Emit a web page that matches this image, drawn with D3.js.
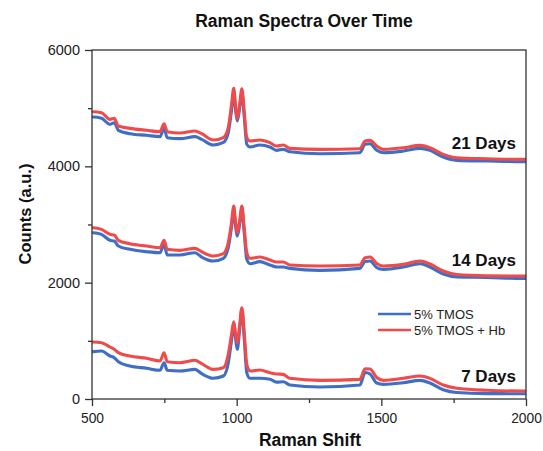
<!DOCTYPE html>
<html><head><meta charset="utf-8">
<script src="https://cdn.jsdelivr.net/npm/d3@7"></script>
<style>body{margin:0;background:#fff}svg{display:block}text{font-family:Arial,"Liberation Sans",sans-serif}</style>
</head><body><svg id="c" width="543" height="451"></svg>
<script>
const wn = [500,505,533,562,577,591,631,689,735,749,760,804,856,879,919,954,971,982,990,996,1002,1010,1018,1026,1035,1046,1080,1115,1138,1161,1184,1288,1426,1444,1461,1484,1507,1576,1634,1668,1714,1761,1864,1991,2000];
const d21_tmos = [4840,4848,4825,4722,4750,4619,4561,4533,4510,4653,4493,4476,4510,4464,4366,4410,4580,4950,5260,4980,4779,4990,5270,4860,4379,4332,4366,4332,4275,4292,4251,4217,4234,4379,4389,4275,4234,4263,4309,4275,4160,4103,4091,4080,4080];
const d21_hb   = [4930,4939,4922,4808,4825,4693,4653,4619,4596,4733,4596,4573,4607,4561,4452,4493,4665,5050,5340,5050,4825,5050,5334,4950,4493,4435,4452,4407,4349,4366,4309,4292,4303,4435,4446,4349,4292,4320,4360,4320,4206,4148,4131,4120,4120];
const d14_tmos = [2850,2859,2831,2728,2716,2630,2573,2532,2515,2659,2476,2476,2515,2441,2372,2419,2600,2950,3250,2980,2800,2990,3260,2870,2401,2326,2361,2304,2269,2269,2246,2212,2246,2365,2372,2260,2229,2269,2326,2270,2150,2100,2090,2074,2074];
const d14_hb   = [2940,2945,2917,2831,2819,2728,2670,2630,2601,2728,2573,2556,2590,2532,2458,2498,2687,3020,3318,3050,2859,3050,3318,2950,2515,2419,2441,2390,2355,2355,2304,2286,2304,2430,2441,2330,2286,2315,2372,2320,2200,2140,2118,2114,2114];
const d7_tmos  = [810,814,825,739,710,641,567,528,493,624,493,481,510,435,356,395,620,1000,1290,1050,854,1180,1540,1050,452,356,356,338,290,297,241,206,241,455,430,275,252,280,321,275,160,112,93,91,91];
const d7_hb    = [975,980,968,894,854,796,739,700,653,796,641,624,665,607,510,538,768,1100,1329,1120,968,1250,1570,1150,595,481,499,452,430,424,356,321,338,520,515,370,321,356,395,355,240,185,150,137,137];
const xTicks = [500,1000,1500,2000];
const xMinor = [750,1250,1750];
const yTicks = [0,2000,4000,6000];
const yMinor = [1000,3000,5000];
const seriesNames = ["5% TMOS","5% TMOS + Hb"];
const dayLabels = [{t:"21 Days", y:4290},{t:"14 Days", y:2290},{t:"7 Days", y:300}];

const colors = ["#3f6ec6","#ef4b4b"];
const svg = d3.select("#c");
const m = {l:92, r:17, t:50, b:52};
const W = 543, H = 451;
const x = d3.scaleLinear().domain([500,2000]).range([m.l, W-m.r]);
const y = d3.scaleLinear().domain([0,6000]).range([H-m.b, m.t]);
const axisColor = "#333";

const line = d3.line().x((d,i)=>x(wn[i])).y(d=>y(d)).curve(d3.curveMonotoneX);
const groups = [[d21_tmos,d21_hb],[d14_tmos,d14_hb],[d7_tmos,d7_hb]];
groups.forEach(g=>{
  g.forEach((vals,k)=>{
    svg.append("path").datum(vals).attr("d",line).attr("fill","none")
      .attr("stroke",colors[k]).attr("stroke-width",3.1).attr("stroke-linejoin","round");
  });
});

// frame
svg.append("rect").attr("x",x(500)).attr("y",y(6000)).attr("width",x(2000)-x(500)).attr("height",y(0)-y(6000))
  .attr("fill","none").attr("stroke",axisColor).attr("stroke-width",1.3);

// axes
const xAxis = svg.append("g").attr("transform",`translate(0,${y(0)})`)
  .call(d3.axisBottom(x).tickValues(xTicks).tickFormat(d3.format("d")).tickSize(7).tickPadding(7));
const xAxisMinor = svg.append("g").attr("transform",`translate(0,${y(0)})`)
  .call(d3.axisBottom(x).tickValues(xMinor).tickFormat("").tickSize(4));
const yAxis = svg.append("g").attr("transform",`translate(${x(500)},0)`)
  .call(d3.axisLeft(y).tickValues(yTicks).tickFormat(d3.format("d")).tickSize(7).tickPadding(5));
const yAxisMinor = svg.append("g").attr("transform",`translate(${x(500)},0)`)
  .call(d3.axisLeft(y).tickValues(yMinor).tickFormat("").tickSize(4));
[xAxis,xAxisMinor,yAxis,yAxisMinor].forEach(a=>{
  a.select(".domain").remove();
  a.selectAll("line").attr("stroke",axisColor).attr("stroke-width",1.3);
  a.selectAll("text").attr("fill","#222").style("font-family","Arial, 'Liberation Sans', sans-serif");
});
xAxis.selectAll("text").attr("font-size",13.8);
yAxis.selectAll("text").attr("font-size",14.5);

// title & labels
svg.append("text").attr("x",304).attr("y",27).attr("text-anchor","middle")
  .attr("font-size",17.5).attr("font-weight","bold").attr("fill","#111").text("Raman Spectra Over Time");
svg.append("text").attr("x",310).attr("y",446).attr("text-anchor","middle")
  .attr("font-size",17.5).attr("font-weight","bold").attr("fill","#111").text("Raman Shift");
svg.append("text").attr("transform","translate(31,214) rotate(-90)").attr("text-anchor","middle")
  .attr("font-size",16.5).attr("font-weight","bold").attr("fill","#111").text("Counts (a.u.)");

dayLabels.forEach(d=>{
  svg.append("text").attr("x",516).attr("y",y(d.y)).attr("text-anchor","end")
    .attr("font-size",17).attr("font-weight","bold").attr("fill","#111").text(d.t);
});

// legend
seriesNames.forEach((n,i)=>{
  const ly = 314 + i*16;
  svg.append("line").attr("x1",378).attr("x2",411).attr("y1",ly).attr("y2",ly)
    .attr("stroke",colors[i]).attr("stroke-width",2.5);
  svg.append("text").attr("x",414).attr("y",ly+4.5).attr("font-size",13).attr("fill","#222").text(n);
});
</script></body></html>
